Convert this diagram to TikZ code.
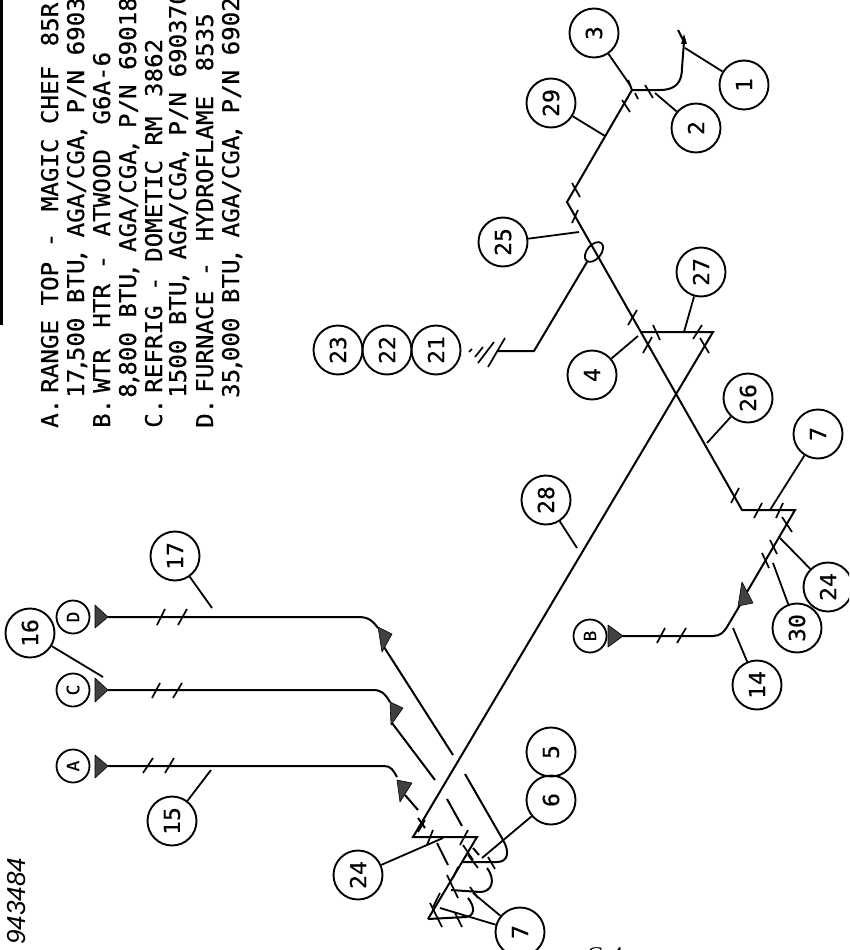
\documentclass[tikz,border=0pt]{standalone}
\usepackage{fontspec}
\setmainfont[FakeBold=0.5,FakeStretch=1.05]{DejaVu Sans Mono}
\usetikzlibrary{shapes.geometric}
\newfontfamily\serifcap{Liberation Serif}
\newfontfamily\itnum{Liberation Sans}
\newcommand{\cmk}{\kern-3.5pt,\kern-3.5pt}
\tikzset{
 pipe/.style={line width=2pt,line join=miter},
 lead/.style={line width=1.8pt},
 ticky/.style={line width=1.7pt},
 callout/.style={circle,draw,line width=1.9pt,minimum size=49pt,inner sep=0pt,rotate=90,font=\fontsize{22}{22}\selectfont},
 lettered/.style={circle,draw,line width=1.8pt,minimum size=33pt,inner sep=0pt,rotate=90,font=\fontsize{17}{17}\selectfont},
 legend/.style={anchor=base west,inner sep=0pt,rotate=90,font=\fontsize{23}{23}\selectfont},
 flare/.style={fill=black!75,draw=black,line width=0.6pt,line join=round},
}
\begin{document}
\begin{tikzpicture}[x=1pt,y=-1pt]
\useasboundingbox (0,0) rectangle (849,950);
\clip (0,0) rectangle (849,950);
\fill[white] (0,0) rectangle (849,950);
% frame remnant
\draw[line width=3pt] (1.5,0) -- (1.5,325);
% legend
\node[legend] at (58,428) {A.\kern-8.5pt{} RANGE TOP - \kern7pt{}MAGIC CHEF \kern5pt{}85R};
\node[legend] at (84,398) {17\cmk{}500 BTU\cmk{} AGA/CGA\cmk{} P/N 6903};
\node[legend] at (110,428) {B.\kern-8.5pt{} WTR \kern7pt{}HTR - \kern4pt{}ATWOOD \kern10pt{}G6A-6};
\node[legend] at (136,398) {8\cmk{}800 BTU\cmk{} AGA/CGA\cmk{} P/N 69018};
\node[legend] at (162,428) {C.\kern-8.5pt{} REFRIG - DOMETIC RM \kern5pt{}3862};
\node[legend] at (186,398) {1500 BTU\cmk{} AGA/CGA\cmk{} P/N 690370};
\node[legend] at (213,428) {D.\kern-8.5pt{} FURNACE - \kern6pt{}HYDROFLAME \kern10pt{}8535};
\node[legend] at (239,398) {35\cmk{}000 BTU\cmk{} AGA/CGA\cmk{} P/N 6902};
\node[anchor=base west,inner sep=0pt,rotate=90,font=\itnum\itshape\fontsize{26}{26}\selectfont] at (25,945) {943484};
\node[anchor=base west,inner sep=0pt,font=\serifcap\fontsize{24}{24}\selectfont] at (587,963) {C-4};
% callouts
\node[callout] (n3) at (594,33) {3};
\node[callout] (n29) at (551,103) {29};
\node[callout] (n1) at (744,85) {1};
\node[callout] (n2) at (696,128) {2};
\node[callout] (n25) at (503,242) {25};
\node[callout] (n27) at (701,272) {27};
\node[callout] (n4) at (592,375) {4};
\node[callout] (n26) at (748,398) {26};
\node[callout] (n7a) at (818,434) {7};
\node[callout] (n28) at (546,500) {28};
\node[callout] (n24a) at (828,587) {24};
\node[callout] (n30) at (797,628) {30};
\node[callout] (n14) at (757,685) {14};
\node[callout] (n5) at (551,752) {5};
\node[callout] (n6) at (551,800) {6};
\node[callout] (n24b) at (358,875) {24};
\node[callout] (n7b) at (520,932) {7};
\node[callout] (n16) at (30,633) {16};
\node[callout] (n15) at (172,821) {15};
\node[callout] (n17) at (175,556) {17};
\node[callout] (n21) at (436,350) {21};
\node[callout] (n22) at (387,350) {22};
\node[callout] (n23) at (338,350) {23};
\node[lettered] (lA) at (73,766) {A};
\node[lettered] (lC) at (73,690) {C};
\node[lettered] (lD) at (73,617) {D};
\node[lettered] (lB) at (590,636) {B};
% leaders
\draw[lead] (n3) -- (630,85);
\draw[lead] (n1) -- (685,48);
\draw[lead] (n2) -- (655,93);
\draw[lead] (n29) -- (605,136);
\draw[lead] (n25) -- (579,232);
\draw[lead] (n27) -- (684,332);
\draw[lead] (n4) -- (638,336);
\draw[lead] (n26) -- (707,443);
\draw[lead] (n7a) -- (770,510);
\draw[lead] (n28) -- (577,548);
\draw[lead] (n24a) -- (780,538);
\draw[lead] (n30) -- (773,563);
\draw[lead] (n14) -- (733,628);
\draw[lead] (n6) -- (482,858);
\draw[lead] (n24b) -- (443,838);
\draw[lead] (n7b) -- (473,893);
\draw[lead] (n7b) -- (440,908);
\draw[lead] (n15) -- (211,770);
\draw[lead] (n16) -- (103,677);
\draw[lead] (n17) -- (212,608);
% main pipe
\draw[pipe] (628,80) -- (632,90) -- (567,202) -- (742,510) -- (795,510) -- (747,592);
\draw[pipe] (632,90) -- (660,90) .. controls (676,90) and (682,82) .. (682,68) -- (684,42);
\draw[pipe] (678,30) -- (684,42);
\fill (684,34) -- (687,44) -- (681,44) -- cycle;
% gas branch with shutoff
\node[ellipse,draw,line width=1.8pt,minimum width=23pt,minimum height=14pt,inner sep=0pt,rotate=50] (valve) at (594,252) {};
\draw[pipe] (587,262) -- (534,351) -- (498,351);
% hatch end
\draw[ticky] (505,338) -- (488,367);
\draw[ticky] (494,342) -- (478,363);
\draw[ticky] (483,347) -- (475,357);
\draw[ticky] (472,349) -- (469,352);
% long return
\draw[pipe] (640,332) -- (713,332) -- (413,837) -- (477,837) -- (428,919);
% branches off the diagonal
\draw[pipe] (428,919) -- (466,917) .. controls (474,916) and (476,908) .. (468,898);
\draw[pipe] (451,890) -- (480,892) .. controls (492,892) and (496,880) .. (487,868);
\draw[pipe] (463,862) -- (497,862) .. controls (508,862) and (510,852) .. (503,840);
% appliance lines
\draw[pipe] (108,617) -- (358,617) .. controls (368,617) and (372,620) .. (378,628);
\draw[pipe] (384,647) -- (453,755);
\draw[pipe] (465,774) -- (503,840);
\draw[pipe] (108,690) -- (373,690) .. controls (382,690) and (385,694) .. (390,702);
\draw[pipe] (392,723) -- (435,780);
\draw[pipe] (447,799) -- (462,826);
\draw[pipe] (473,848) -- (479,855);
\draw[pipe] (108,766) -- (384,766) .. controls (391,766) and (393,770) .. (397,777);
\draw[pipe] (405,795) -- (418,810);
\draw[pipe] (418,818) -- (425,828);
\draw[pipe] (437,843) -- (448,865);
\draw[pipe] (623,636) -- (713,636) .. controls (720,636) and (724,632) .. (727,627) -- (740,605);
% flares
\fill[flare] (95,605) -- (95,628) -- (108,617) -- cycle;
\fill[flare] (95,678) -- (95,702) -- (108,690) -- cycle;
\fill[flare] (95,755) -- (95,778) -- (108,766) -- cycle;
\fill[flare] (608,625) -- (608,647) -- (623,636) -- cycle;
\fill[flare] (742,582) -- (753,603) -- (738,606) -- cycle;
\fill[flare] (378,627) -- (392,634) -- (382,652) -- cycle;
\fill[flare] (390,702) -- (403,708) -- (391,725) -- cycle;
\fill[flare] (397,780) -- (412,783) -- (400,802) -- cycle;
% ticks
\foreach \a/\b/\c/\d in {
 165/609/157/625, 187/609/178/625, 160/683/152/698, 182/683/173/698,
 153/758/143/773, 174/758/165/773, 665/628/657/643, 686/628/677/643,
 622/100/630/112, 635/93/638/99, 645/85/653/98, 572/183/580/197, 578/210/572/223,
 637/310/628/325, 653/325/660/340, 702/325/693/339, 652/337/643/353, 700/338/709/353,
 739/488/731/503, 762/503/754/518, 783/503/776/518, 782/517/792/532, 770/540/777/554, 762/553/769/568,
 425/820/418/832, 433/830/427/845, 468/830/460/845, 463/845/473/860, 468/855/478/868,
 488/857/495/869, 458/867/453/878, 447/875/458/898, 470/887/478/898, 440/893/433/907,
 430/903/442/927, 455/913/462/927}
 {\draw[ticky] (\a,\b) -- (\c,\d);}
\end{tikzpicture}
\end{document}
